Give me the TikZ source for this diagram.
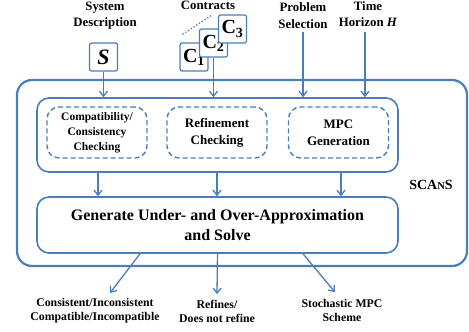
\documentclass[tikz,border=0pt]{standalone}
\usepackage{fontspec}
\setmainfont{Liberation Serif}
\usepackage{xcolor}
\usetikzlibrary{arrows.meta}
\definecolor{scblue}{RGB}{74,126,187}
\tikzset{
  outerbox/.style={draw=scblue, line width=2.2pt, rounded corners=15pt},
  blockbox/.style={draw=scblue, line width=1.6pt, rounded corners=12pt, fill=white},
  dashbox/.style={draw=scblue, line width=1.4pt, dash pattern=on 5pt off 3pt, rounded corners=12pt, minimum width=100pt, minimum height=51pt, align=center, font=\bfseries\fontsize{13}{17}\selectfont},
  inbox/.style={draw=scblue, line width=1.2pt, rounded corners=2pt, fill=white, minimum width=28pt, minimum height=28pt, inner sep=0pt},
  lab/.style={align=center, font=\bfseries\fontsize{12.8}{16.5}\selectfont, inner sep=1pt},
  outlab/.style={align=center, font=\bfseries\fontsize{11.8}{14}\selectfont, inner sep=1pt},
  arr/.style={draw=scblue, line width=1.3pt, -{Straight Barb[length=5pt,width=8pt]}},
}

\begin{document}
\begin{tikzpicture}[x=1pt, y=-1pt]
  \useasboundingbox (0,0) rectangle (469,332);

  % main frame
  \node[outerbox, minimum width=450pt, minimum height=186pt] (scans) at (242,173) {};
  \node[font=\bfseries\fontsize{14}{16}\selectfont] (name) at (431,185) {SCA{\fontsize{10.5}{12}\selectfont N}S};

  % checking block
  \node[blockbox, minimum width=361pt, minimum height=74pt] (top) at (217.5,135) {};
  \node[dashbox, font=\bfseries\fontsize{11.5}{15}\selectfont] (chk1) at (97,132.5) {Compatibility/\\Consistency\\Checking};
  \node[dashbox] (chk2) at (217,132.5) {Refinement\\Checking};
  \node[dashbox] (chk3) at (338.5,132.5) {MPC\\Generation};

  % solver block
  \node[blockbox, minimum width=361pt, minimum height=56pt, align=center,
        font=\bfseries\fontsize{16}{20}\selectfont] (gen) at (217.5,225)
        {Generate Under- and Over-Approximation\\and Solve};

  % inputs
  \node[lab] (sysd) at (105,15.5) {System\\Description};
  \node[inbox, font=\bfseries\itshape\fontsize{22}{22}\selectfont] (S) at (103.5,57) {S};
  \node[lab] (contr) at (208,5) {Contracts};
  \node[inbox, font=\bfseries\fontsize{20}{20}\selectfont] (C1) at (194,57) {C\textsubscript{1}};
  \node[inbox, font=\bfseries\fontsize{20}{20}\selectfont] (C2) at (213.5,43) {C\textsubscript{2}};
  \node[inbox, font=\bfseries\fontsize{20}{20}\selectfont] (C3) at (232.5,29) {C\textsubscript{3}};
  \draw[scblue, line width=1.3pt, dotted] (C1.north west) ++(3,-8) coordinate (dotA) -- ++(29,-19) coordinate (dotB);
  \node[lab] (prob) at (303,15.5) {Problem\\Selection};
  \node[lab] (horiz) at (368,14) {Time\\Horizon \textit{H}};

  \draw[arr] (S.south) -- (S.south |- top.north);
  \draw[arr] (C2.south) -- (C2.south |- top.north);
  \draw[arr] ([yshift=-2.5pt]prob.south) -- (prob.south |- top.north);
  \draw[arr] ([xshift=-3pt,yshift=-4pt]horiz.south) -- ([xshift=-3pt]horiz.south |- top.north);

  \foreach \c/\x in {chk1/98,chk2/217,chk3/341}
    \draw[arr] (\x,0 |- top.south) -- (\x,0 |- gen.north);

  % outputs
  \node[outlab] (out1) at (95,311) {Consistent/Inconsistent\\Compatible/Incompatible};
  \node[outlab] (out2) at (217,311) {Refines/\\Does not refine};
  \node[outlab] (out3) at (342,310) {Stochastic MPC\\Scheme};

  \draw[arr] ([xshift=-77.5pt]gen.south) -- ([xshift=15pt,yshift=4.5pt]out1.north);
  \draw[arr] (gen.south) -- ([yshift=4.5pt]out2.north);
  \draw[arr] ([xshift=85.5pt]gen.south) -- ([xshift=-7pt,yshift=5.5pt]out3.north);
\end{tikzpicture}
\end{document}
